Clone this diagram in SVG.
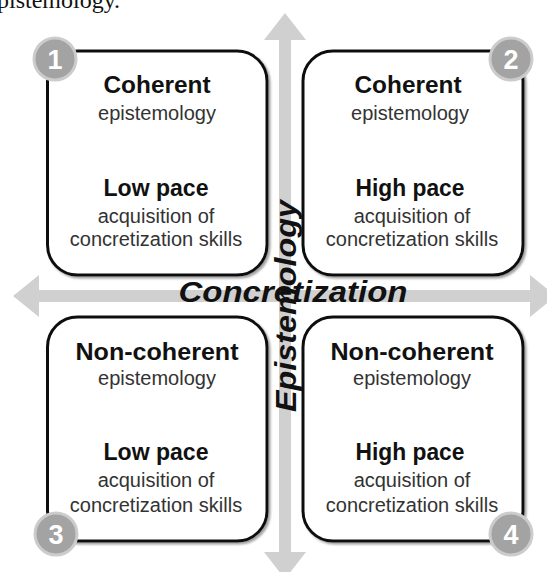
<svg xmlns="http://www.w3.org/2000/svg" width="547" height="572" viewBox="0 0 547 572">
<style>
.box{fill:#fff;stroke:#111;stroke-width:3;filter:url(#sh)}
.arrow{fill:#d0d0d0}
.h{font-family:"Liberation Sans",Arial,sans-serif;font-weight:bold;font-size:23px;fill:#111;text-anchor:middle}
.s{font-family:"Liberation Sans",Arial,sans-serif;font-size:20px;fill:#333;text-anchor:middle}
.badge circle{fill:#a3a3a3;stroke:#cccccc;stroke-width:3}
.badge text{font-family:"Liberation Sans",Arial,sans-serif;font-weight:bold;font-size:27px;fill:#fff;text-anchor:middle}
.axis{font-family:"Liberation Sans",Arial,sans-serif;font-weight:bold;font-style:italic;font-size:29px;fill:#111;text-anchor:middle}
</style>
<defs>
<filter id="sh" x="-10%" y="-10%" width="120%" height="120%">
<feDropShadow dx="2" dy="2" stdDeviation="1" flood-color="#777" flood-opacity="0.7"/>
</filter>
</defs>
<text x="-3" y="8" font-family="'Liberation Serif','Times New Roman',serif" font-size="24" fill="#111">pistemology.</text>
<g id="connectors">
<polygon class="arrow" points="285,13 306,40 291,40 291,552 306,552 285,579 264,552 279,552 279,40 264,40"/>
<polygon class="arrow" points="13,296 39,275 39,290 530,290 530,275 556,296 530,317 530,302 39,302 39,317"/>
</g>
<g id="node1">
<rect class="box" x="47.5" y="51" width="219.5" height="224" rx="30"/>
<text class="h" x="157" y="93" textLength="107" lengthAdjust="spacingAndGlyphs">Coherent</text>
<text class="s" x="157" y="120">epistemology</text>
<text class="h" x="156" y="196" textLength="105" lengthAdjust="spacingAndGlyphs">Low pace</text>
<text class="s" x="156" y="223">acquisition of</text>
<text class="s" x="156" y="246">concretization skills</text>
</g>
<g id="node2">
<rect class="box" x="303" y="51" width="220" height="224" rx="30"/>
<text class="h" x="408" y="93" textLength="107" lengthAdjust="spacingAndGlyphs">Coherent</text>
<text class="s" x="410" y="120">epistemology</text>
<text class="h" x="410" y="196" textLength="109" lengthAdjust="spacingAndGlyphs">High pace</text>
<text class="s" x="412" y="223">acquisition of</text>
<text class="s" x="412" y="246">concretization skills</text>
</g>
<g id="node3">
<rect class="box" x="47.5" y="317" width="219.5" height="224" rx="30"/>
<text class="h" x="157" y="360" textLength="163" lengthAdjust="spacingAndGlyphs">Non-coherent</text>
<text class="s" x="157" y="385">epistemology</text>
<text class="h" x="156" y="460" textLength="105" lengthAdjust="spacingAndGlyphs">Low pace</text>
<text class="s" x="156" y="487">acquisition of</text>
<text class="s" x="156" y="512">concretization skills</text>
</g>
<g id="node4">
<rect class="box" x="303" y="317" width="220" height="224" rx="30"/>
<text class="h" x="412" y="360" textLength="163" lengthAdjust="spacingAndGlyphs">Non-coherent</text>
<text class="s" x="412" y="385">epistemology</text>
<text class="h" x="410" y="460" textLength="109" lengthAdjust="spacingAndGlyphs">High pace</text>
<text class="s" x="412" y="487">acquisition of</text>
<text class="s" x="412" y="512">concretization skills</text>
</g>
<g id="badge1" class="badge"><circle cx="55" cy="59" r="21"/><text x="55" y="69">1</text></g>
<g id="badge2" class="badge"><circle cx="511" cy="59" r="21"/><text x="511" y="69">2</text></g>
<g id="badge3" class="badge"><circle cx="56" cy="534" r="21"/><text x="56" y="544">3</text></g>
<g id="badge4" class="badge"><circle cx="511" cy="534" r="21"/><text x="511" y="544">4</text></g>
<g id="axes">
<text class="axis" x="293" y="302" textLength="229" lengthAdjust="spacingAndGlyphs">Concretization</text>
<text class="axis" transform="translate(296,306) rotate(-90)" x="0" y="0" textLength="212" lengthAdjust="spacingAndGlyphs">Epistemology</text>
</g>
</svg>
